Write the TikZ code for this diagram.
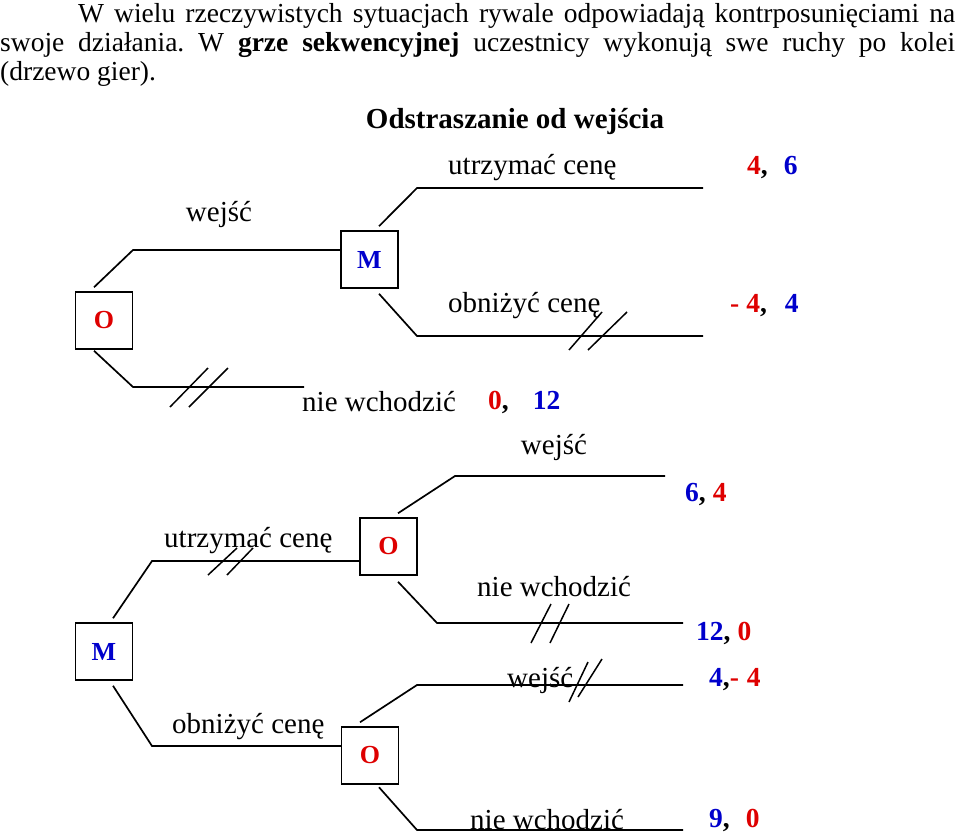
\documentclass[tikz,border=0pt]{standalone}
\usepackage{fontspec}
\setmainfont{Liberation Serif}
\usepackage{graphicx}
\frenchspacing
\definecolor{ored}{RGB}{222,0,0}
\definecolor{mblue}{RGB}{0,0,204}
\newsavebox\fitlinebox
\newcommand\fitline[2]{\sbox\fitlinebox{#2}\ifdim\wd\fitlinebox>#1\relax\resizebox{#1}{\height}{\usebox\fitlinebox}\else\hbox to #1{#2}\fi}
\begin{document}
\begin{tikzpicture}[x=1pt,y=-1pt,
 player/.style={draw,line width=1.5pt,minimum width=57pt,minimum height=57pt,inner sep=0pt,font=\fontsize{26}{26}\selectfont\bfseries},
 branch/.style={line width=1.7pt},
 cut/.style={line width=1.5pt},
 lbl/.style={inner sep=0pt,font=\fontsize{29}{29}\selectfont},
 pay/.style={inner sep=0pt,anchor=west,font=\fontsize{27.5}{27.5}\selectfont\bfseries},
 para/.style={inner sep=0pt,anchor=base west,font=\fontsize{27.5}{30}\selectfont}]
\useasboundingbox (0,0) rectangle (960,835);

% paragraph
\node[para] (p1) at (78,22) {\fitline{877pt}{W wielu rzeczywistych sytuacjach rywale odpowiadają kontrposunięciami na}};
\node[para] (p2) at (0,51) {\fitline{955pt}{swoje działania. W \textbf{grze sekwencyjnej} uczestnicy wykonują swe ruchy po kolei}};
\node[para] (p3) at (0,80) {(drzewo gier).};

% title
\node[lbl,font=\fontsize{29}{29}\selectfont\bfseries] (title) at (515,122) {Odstraszanie od wejścia};

% decision boxes
\node[player,text=ored] (O1) at (104,320.5) {O};
\node[player,text=mblue] (M1) at (369.5,259.5) {M};
\node[player,text=mblue] (M2) at (104,651.5) {M};
\node[player,text=ored] (O2) at (388.5,546.5) {O};
\node[player,text=ored] (O3) at (370,755.5) {O};

% bend / end coordinates
\coordinate (o1u) at (133,250);
\coordinate (o1d) at (133,387);
\coordinate (o1de) at (304,387);
\coordinate (m1u) at (417,188);
\coordinate (m1ue) at (703,188);
\coordinate (m1d) at (417,336);
\coordinate (m1de) at (703,336);
\coordinate (m2u) at (152,561);
\coordinate (m2d) at (152,746);
\coordinate (o2u) at (455,476);
\coordinate (o2ue) at (665,476);
\coordinate (o2d) at (437,623);
\coordinate (o2de) at (683,623);
\coordinate (o3u) at (417,685);
\coordinate (o3ue) at (683,685);
\coordinate (o3d) at (417,830);
\coordinate (o3de) at (683,830);

% branches
\draw[branch] ([shift={(-10,-4)}]O1.north) -- (o1u) -- (o1u -| M1.west);
\draw[branch] ([shift={(-10,1)}]O1.south) -- (o1d) -- (o1de);
\draw[branch] ([shift={(9.5,-4)}]M1.north) -- (m1u) -- (m1ue);
\draw[branch] ([shift={(9.5,5)}]M1.south) -- (m1d) -- (m1de);
\draw[branch] ([shift={(9,-4)}]M2.north) -- (m2u) -- (m2u -| O2.west);
\draw[branch] ([shift={(9,5)}]M2.south) -- (m2d) -- (m2d -| O3.west);
\draw[branch] ([shift={(9.5,-4)}]O2.north) -- (o2u) -- (o2ue);
\draw[branch] ([shift={(9.5,6)}]O2.south) -- (o2d) -- (o2de);
\draw[branch] ([shift={(-10,-4)}]O3.north) -- (o3u) -- (o3ue);
\draw[branch] ([shift={(9,2.5)}]O3.south) -- (o3d) -- (o3de);

% cut marks
\draw[cut] (170,407) -- (208,368) (189,407) -- (228,368);
\draw[cut] (569,350) -- (602,312) (588,350) -- (627,312);
\draw[cut] (208,575) -- (237,548) (227,575) -- (253,548);
\draw[cut] (531,643) -- (551,604) (550,643) -- (569,604);
\draw[cut] (569,702) -- (588,662) (578,697) -- (602,659);

% move labels
\node[lbl] (l1) at (219,215) {wejść};
\node[lbl,anchor=west] (l2) at (448,168) {utrzymać cenę};
\node[lbl,anchor=west] (l3) at (448,306) {obniżyć cenę};
\node[lbl,anchor=west] (l4) at (302,402) {nie wchodzić};
\node[lbl] (l5) at (554,447) {wejść};
\node[lbl,anchor=west] (l6) at (164,541) {utrzymać cenę};
\node[lbl,anchor=west] (l7) at (172,727) {obniżyć cenę};
\node[lbl,anchor=west] (l8) at (477,587) {nie wchodzić};
\node[lbl,anchor=west] (l9) at (507,680) {wejść};
\node[lbl,anchor=west] (l10) at (470,820) {nie wchodzić};

% payoffs
\node[pay] (r1) at (747,168) {\textcolor{ored}{4},\hspace{16pt}\textcolor{mblue}{6}};
\node[pay] (r2) at (730,306) {\textcolor{ored}{-\hspace{7pt}4},\hspace{18pt}\textcolor{mblue}{4}};
\node[pay] (r3) at (488,402) {\textcolor{ored}{0},\hspace{24pt}\textcolor{mblue}{12}};
\node[pay] (r4) at (685,495) {\textcolor{mblue}{6},\hspace{7pt}\textcolor{ored}{4}};
\node[pay] (r5) at (696,633) {\textcolor{mblue}{12},\hspace{7pt}\textcolor{ored}{0}};
\node[pay] (r6) at (709,680) {\textcolor{mblue}{4},\textcolor{ored}{-\hspace{8pt}4}};
\node[pay] (r7) at (709,820) {\textcolor{mblue}{9},\hspace{16pt}\textcolor{ored}{0}};
\end{tikzpicture}
\end{document}
